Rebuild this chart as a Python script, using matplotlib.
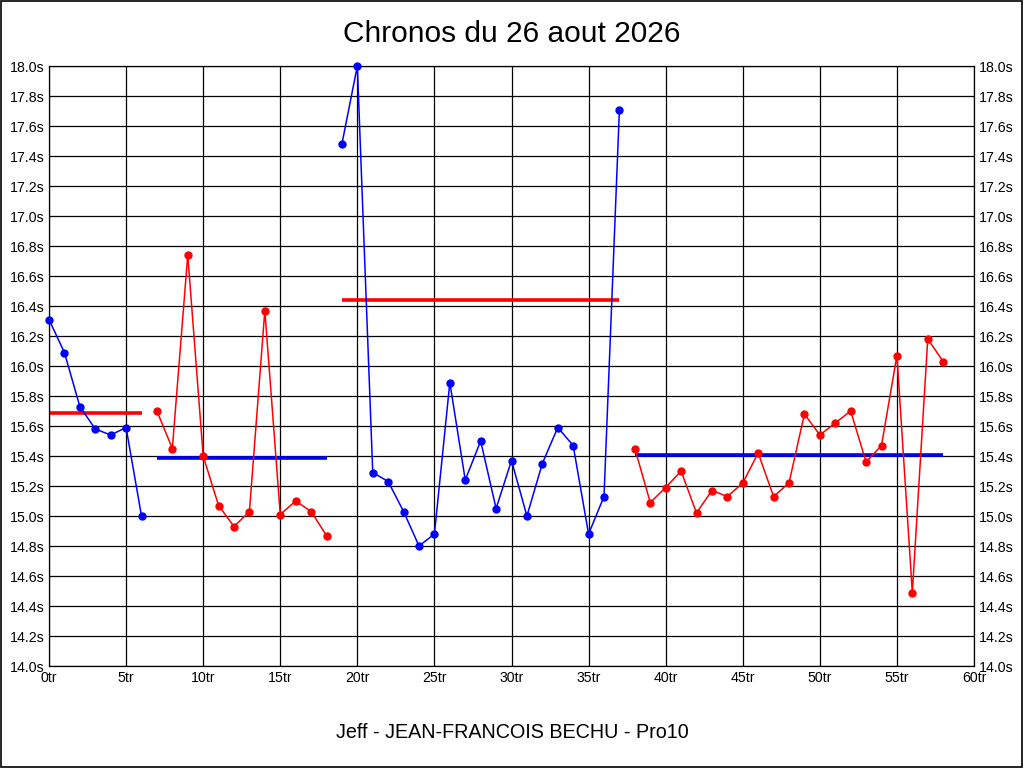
import matplotlib
matplotlib.use("Agg")
import matplotlib.pyplot as plt
from matplotlib.patches import Rectangle

plt.rcParams['font.family'] = ['Liberation Sans', 'DejaVu Sans']

title = "Chronos du 26 aout 2026"
subtitle = "Jeff - JEAN-FRANCOIS BECHU - Pro10"

laps1 = [0, 1, 2, 3, 4, 5, 6]
times1 = [16.31, 16.09, 15.73, 15.58, 15.54, 15.59, 15.00]
laps2 = [7, 8, 9, 10, 11, 12, 13, 14, 15, 16, 17, 18]
times2 = [15.70, 15.45, 16.74, 15.40, 15.07, 14.93, 15.03, 16.37, 15.01, 15.10, 15.03, 14.87]
laps3 = list(range(19, 38))
times3 = [17.48, 18.00, 15.29, 15.23, 15.03, 14.80, 14.88, 15.89, 15.24, 15.50,
          15.05, 15.37, 15.00, 15.35, 15.59, 15.47, 14.88, 15.13, 17.71]
laps4 = list(range(38, 59))
times4 = [15.45, 15.09, 15.19, 15.30, 15.02, 15.17, 15.13, 15.22, 15.42, 15.13,
          15.22, 15.68, 15.54, 15.62, 15.70, 15.36, 15.47, 16.07, 14.49, 16.18, 16.03]

# mean lap time of each stint (as shown by the horizontal bars)
means = [15.69, 15.39, 16.44, 15.41]

series = [(laps1, times1, 'blue', 'red'),
          (laps2, times2, 'red', 'blue'),
          (laps3, times3, 'blue', 'red'),
          (laps4, times4, 'red', 'blue')]

fig = plt.figure(figsize=(10.24, 7.68), dpi=100)
ax = fig.add_axes([49/1024, 102/768, 925/1024, 600/768])

for (laps, times, c, mc), mean in zip(series, means):
    ax.plot(laps, times, color=c, lw=1.1, marker='o', ms=5, clip_on=False, zorder=3)
    ax.plot([laps[0], laps[-1]], [mean, mean], color=mc, lw=2.6, zorder=2,
            solid_capstyle='butt')

ax.set_xlim(0, 60)
ax.set_ylim(14.0, 18.0)
xt = list(range(0, 61, 5))
yt = [14.0 + 0.2 * i for i in range(21)]
ax.set_xticks(xt)
ax.set_xticklabels([f"{v}tr" for v in xt])
ax.set_yticks(yt)
ax.set_yticklabels([f"{v:.1f}s" for v in yt])
ax.grid(True, color='black', lw=0.9)
ax.set_axisbelow(True)
ax.tick_params(axis='both', length=0, labelsize=10.2, pad=3.5, colors='black')
ax.tick_params(axis='y', left=True, right=True, labelleft=True, labelright=True)
for s in ax.spines.values():
    s.set_color('black')
    s.set_linewidth(0.9)

fig.text(0.5, 1 - 34/768, title, ha='center', va='center', fontsize=21.5)
fig.text(0.5, 1 - 733/768, subtitle, ha='center', va='center', fontsize=14.2)
fig.patches.append(Rectangle((0.0005, 0.0007), 0.998, 0.998, transform=fig.transFigure,
                             fill=False, edgecolor='black', lw=1.2))

fig.savefig("out.png", dpi=100)
